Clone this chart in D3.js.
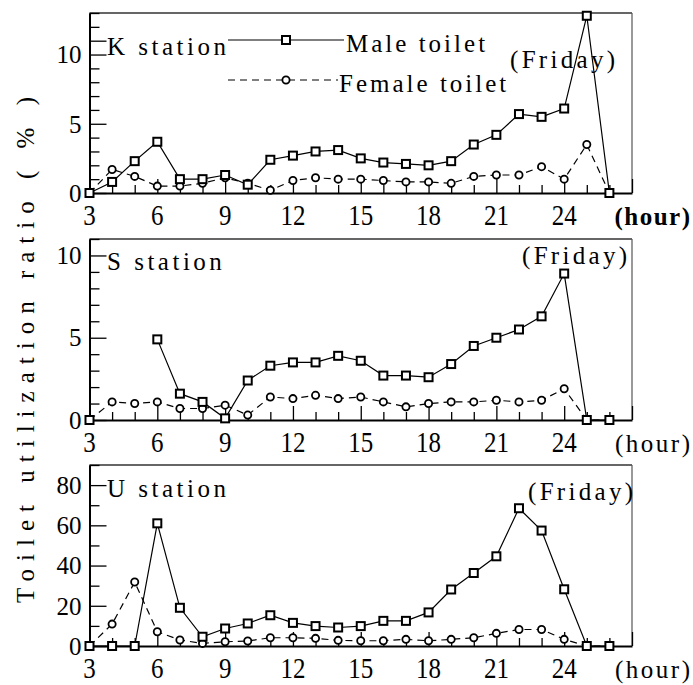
<!DOCTYPE html>
<html><head><meta charset="utf-8">
<script src="https://cdn.jsdelivr.net/npm/d3@7"></script>
<style>
body{margin:0;background:#fff}
</style></head><body>
<svg id="chart" width="693" height="685" font-family="Liberation Serif, serif"></svg>
<script>
// Hourly toilet utilization ratio (%) on a Friday, hours 3..26
const hours = d3.range(3, 27);

const kMale   = [0,0.8,2.3,3.7,1.0,1.0,1.3,0.6,2.4,2.7,3.0,3.1,2.5,2.2,2.1,2.0,2.3,3.5,4.2,5.7,5.5,6.1,12.8,0];
const kFemale = [0,1.7,1.2,0.5,0.5,0.7,1.1,0.7,0.2,0.9,1.1,1.0,1.0,0.9,0.8,0.8,0.7,1.2,1.3,1.3,1.9,1.0,3.5,0];

const sMale   = [0,null,null,4.9,1.6,1.1,0.1,2.4,3.3,3.5,3.5,3.9,3.6,2.7,2.7,2.6,3.4,4.5,5.0,5.5,6.3,8.9,0,0];
const sFemale = [0,1.1,1.0,1.1,0.7,0.7,0.9,0.3,1.4,1.3,1.5,1.3,1.4,1.1,0.8,1.0,1.1,1.1,1.2,1.1,1.2,1.9,0,0];

const uMale   = [0,0,0,61,19,4.6,8.7,11.2,15.3,11.5,9.9,9.2,9.9,12.5,12.5,16.7,28.1,36.3,44.6,68.5,57.4,28.2,0,0];
const uFemale = [0,10.9,31.8,7.1,3.0,1.3,2.1,2.5,4.1,4.1,3.8,2.8,2.6,2.6,3.3,2.6,3.3,4.1,6.3,8.2,8.2,3.3,0,0];

const stationNames = ["K station", "S station", "U station"];
const dayLabel = "(Friday)";
const seriesNames = ["Male toilet", "Female toilet"];
const xTickLabels = [3,6,9,12,15,18,21,24];
const hourLabel = "(hour)";
const yLabel = "Toilet utilization ratio ( % )";

const FONT = "Liberation Serif, serif";

const panels = [
  {name: stationNames[0], male: kMale, female: kFemale, yMax: 13, yMajor: [0,5,10], yMinorStep: 1, top: 13,  bottom: 193, legend: true,  boldHour: true,
   stationY: 55, fridayX: 510, fridayY: 68, extraTick: 11},
  {name: stationNames[1], male: sMale, female: sFemale, yMax: 11, yMajor: [0,5,10], yMinorStep: 1, top: 239, bottom: 420, legend: false, boldHour: false,
   stationY: 270, fridayX: 522, fridayY: 264},
  {name: stationNames[2], male: uMale, female: uFemale, yMax: 90, yMajor: [0,20,40,60,80], yMinorStep: 10, top: 465, bottom: 646, legend: false, boldHour: false,
   stationY: 497, fridayX: 528, fridayY: 500}
];

const svg = d3.select("#chart");
const left = 89.5, right = 632;
const x = d3.scaleLinear().domain([3, 27]).range([left, right]);

// plain text
function label(g, xPos, yPos, str, size) {
  return g.append("text").attr("x", xPos).attr("y", yPos)
    .attr("font-family", FONT).attr("font-size", size).attr("fill", "#000").text(str);
}
// text with extra gap between characters, one tspan per character
function spaced(g, xPos, yPos, str, size, gap) {
  const t = g.append("text").attr("x", xPos).attr("y", yPos)
    .attr("font-family", FONT).attr("font-size", size).attr("fill", "#000")
    .style("white-space", "pre");
  Array.from(String(str)).forEach((ch, i) => {
    t.append("tspan").attr("dx", i ? gap : 0).text(ch);
  });
  return t;
}

panels.forEach(p => {
  const y = d3.scaleLinear().domain([0, p.yMax]).range([p.bottom, p.top]);
  const g = svg.append("g");

  // frame: top and right edges
  g.append("line").attr("x1", left).attr("x2", right).attr("y1", p.top).attr("y2", p.top)
    .attr("stroke", "#333").attr("stroke-width", 1.3);
  g.append("line").attr("x1", right).attr("x2", right).attr("y1", p.top).attr("y2", p.bottom)
    .attr("stroke", "#555").attr("stroke-width", 1.2);

  // left axis with inward ticks
  const yTicks = d3.range(0, p.yMax + 0.001, p.yMinorStep);
  const ya = g.append("g").attr("transform", `translate(${left},0)`)
    .call(d3.axisLeft(y).tickValues(yTicks).tickSizeOuter(0).tickSizeInner(-10).tickFormat(""));
  ya.attr("font-family", FONT);
  ya.select(".domain").attr("stroke", "#000").attr("stroke-width", 2);
  ya.selectAll(".tick line").attr("stroke", "#000").attr("stroke-width", 1.3)
    .attr("x2", d => (p.yMajor.includes(d) || d === p.extraTick) ? 17 : 10);
  ya.selectAll(".tick text").remove();
  p.yMajor.forEach(v => {
    label(g, left - 8, y(v), v, 25).attr("dy", "0.35em").attr("text-anchor", "end");
  });

  // bottom axis with upward ticks
  const xa = g.append("g").attr("transform", `translate(0,${p.bottom})`)
    .call(d3.axisBottom(x).tickValues(d3.range(3, 28)).tickSizeOuter(0).tickSizeInner(-8).tickFormat(""));
  xa.attr("font-family", FONT);
  xa.select(".domain").attr("stroke", "#000").attr("stroke-width", 2);
  xa.selectAll(".tick line").attr("stroke", "#000").attr("stroke-width", 1.3)
    .attr("y2", d => d % 3 === 0 ? -14 : -8);
  xa.selectAll(".tick text").remove();
  xTickLabels.forEach(v => {
    label(g, 0, 0, v, 25).attr("text-anchor", "middle")
      .attr("transform", `translate(${x(v)},${p.bottom + 32}) scale(1,1.22)`);
  });
  const hl = spaced(g, 690, p.bottom + 32, hourLabel, 25, p.boldHour ? 1.5 : 2.5).attr("text-anchor", "end");
  if (p.boldHour) hl.attr("font-weight", "bold");

  // series lines
  const line = d3.line().defined(d => d[1] !== null).x(d => x(d[0])).y(d => y(d[1]));
  const fData = hours.map((h, i) => [h, p.female[i]]);
  const mData = hours.map((h, i) => [h, p.male[i]]);

  g.append("path").datum(fData).attr("d", line).attr("fill", "none")
    .attr("stroke", "#000").attr("stroke-width", 1.2).attr("stroke-dasharray", "7,5");
  g.selectAll(".fpt").data(fData.filter(d => d[1] !== null)).join("circle")
    .attr("cx", d => x(d[0])).attr("cy", d => y(d[1])).attr("r", 3.6)
    .attr("fill", "#fff").attr("stroke", "#000").attr("stroke-width", 1.8);

  g.append("path").datum(mData).attr("d", line).attr("fill", "none")
    .attr("stroke", "#000").attr("stroke-width", 1.2);
  g.selectAll(".mpt").data(mData.filter(d => d[1] !== null)).join("rect")
    .attr("x", d => x(d[0]) - 4).attr("y", d => y(d[1]) - 4).attr("width", 8).attr("height", 8)
    .attr("fill", "#fff").attr("stroke", "#000").attr("stroke-width", 2);

  // station and day labels
  spaced(g, 107, p.stationY, p.name, 25, 3.5);
  spaced(g, p.fridayX, p.fridayY, dayLabel, 25, 3.3);

  if (p.legend) {
    const ly1 = 40, ly2 = 80;
    g.append("line").attr("x1", 228).attr("x2", 344).attr("y1", ly1).attr("y2", ly1)
      .attr("stroke", "#000").attr("stroke-width", 1.2);
    g.append("rect").attr("x", 286 - 4).attr("y", ly1 - 4).attr("width", 8).attr("height", 8)
      .attr("fill", "#fff").attr("stroke", "#000").attr("stroke-width", 2);
    spaced(g, 346, 52, seriesNames[0], 25, 3);
    g.append("line").attr("x1", 228).attr("x2", 338).attr("y1", ly2).attr("y2", ly2)
      .attr("stroke", "#000").attr("stroke-width", 1.2).attr("stroke-dasharray", "7,5");
    g.append("circle").attr("cx", 286).attr("cy", ly2).attr("r", 3.6)
      .attr("fill", "#fff").attr("stroke", "#000").attr("stroke-width", 1.8);
    spaced(g, 339, 92, seriesNames[1], 25, 3);
  }
});

// shared y-axis title
spaced(svg, 0, 0, yLabel, 25, 8).attr("text-anchor", "middle")
  .attr("transform", "translate(34,350) rotate(-90)");
</script>
</body></html>
